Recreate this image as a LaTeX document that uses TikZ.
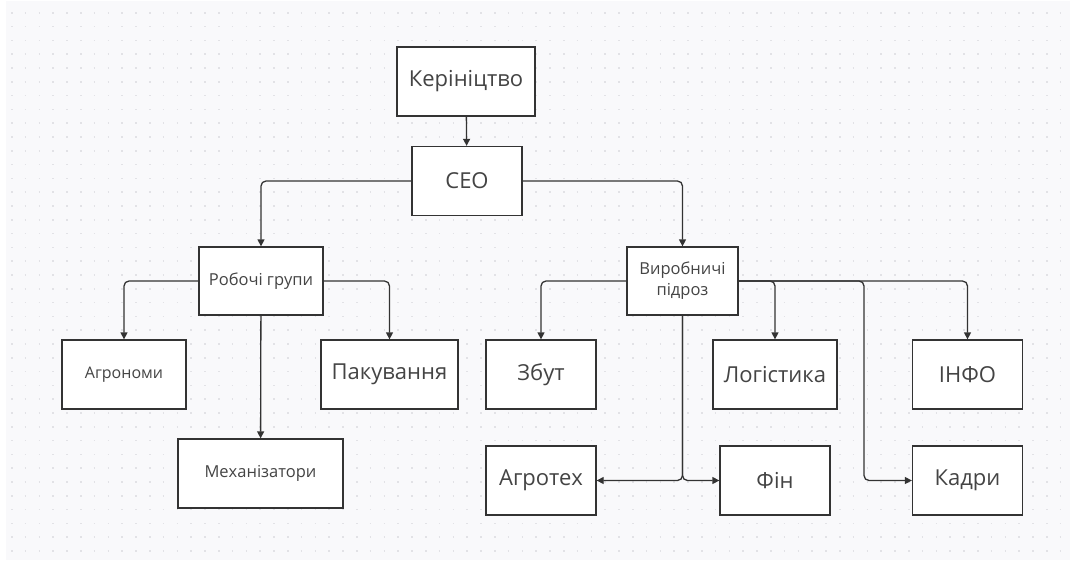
\documentclass[tikz,border=0pt]{standalone}
\usepackage{fontspec}
\setmainfont{Open Sans}
\usetikzlibrary{arrows.meta}

\definecolor{canvas}{HTML}{F9F9FB}
\definecolor{griddot}{HTML}{E2E2E6}
\definecolor{edge}{HTML}{333333}
\definecolor{label}{HTML}{444444}

\begin{document}
\begin{tikzpicture}[x=1pt,y=-1pt,
	box/.style={draw=edge, fill=white, line width=1.3pt, inner sep=0pt,
		text=label, align=center},
	link/.style={draw=edge, line width=1.3pt, rounded corners=5pt,
		-{Triangle[length=7pt,width=7pt]}},
	big/.style={font=\fontsize{22}{26}\selectfont},
	small/.style={font=\fontsize{16.5}{21}\selectfont}]
	% canvas and dot grid
	\useasboundingbox (0,0) rectangle (1070,560);
	\fill[white] (0,0) rectangle (1070,560);
	\fill[canvas] (6,1) rectangle (1070,560);
	\foreach \r in {0,...,39}
		\draw[griddot, line width=1.6pt, dash pattern=on 1.6pt off 12.2pt]
			(11,12.7+13.8*\r) -- (1070,12.7+13.8*\r);
	
	% top
	\node[box, big, minimum width=138pt, minimum height=69pt] (ker) at (466,81.5) {Керініцтво};
	\node[box, big, minimum width=110pt, minimum height=69pt] (ceo) at (467,181) {CEO};
	
	% left branch
	\node[box, small, minimum width=124pt, minimum height=68pt] (rob) at (261,281) {Робочі групи};
	\node[box, font=\fontsize{16}{19}\selectfont, minimum width=124pt, minimum height=69pt] (agr) at (124,374.5) {Агрономи};
	\node[box, big, minimum width=137pt, minimum height=69pt] (pak) at (389.5,374.5) {Пакування};
	\node[box, small, minimum width=165pt, minimum height=69pt] (mekh) at (260.5,473.5) {Механізатори};
	
	% right branch
	\node[box, small, minimum width=111pt, minimum height=68pt] (vyr) at (682.5,281) {Виробничі\\підроз};
	\node[box, big, minimum width=110pt, minimum height=69pt] (zbut) at (541,374.5) {Збут};
	\node[box, big, minimum width=124pt, minimum height=69pt] (log) at (775,374.5) {Логістика};
	\node[box, big, minimum width=110pt, minimum height=69pt] (info) at (967.5,374.5) {ІНФО};
	\node[box, big, minimum width=110pt, minimum height=69pt] (agrotech) at (541,480.5) {Агротех};
	\node[box, big, minimum width=110pt, minimum height=69pt] (fin) at (775,480.5) {Фін};
	\node[box, big, minimum width=110pt, minimum height=69pt] (kadry) at (967.5,480.5) {Кадри};
	\coordinate (kturn) at (864,281);
	
	% connectors
	\draw[link] (ker) -- (ceo);
	\draw[link] (ceo.west) -| (rob.north);
	\draw[link] (ceo.east) -| (vyr.north);
	\draw[link] (rob.west) -| (agr.north);
	\draw[link] (rob.east) -| (pak.north);
	\draw[link] (rob) -- (mekh);
	\draw[link] (vyr.west) -| (zbut.north);
	\draw[link] (vyr.east) -| (log.north);
	\draw[link] (vyr.east) -| (info.north);
	\draw[link] (vyr.south) |- (agrotech.east);
	\draw[link] (vyr.south) |- (fin.west);
	\draw[link] (vyr.east) -- (kturn) |- (kadry.west);
\end{tikzpicture}
\end{document}
